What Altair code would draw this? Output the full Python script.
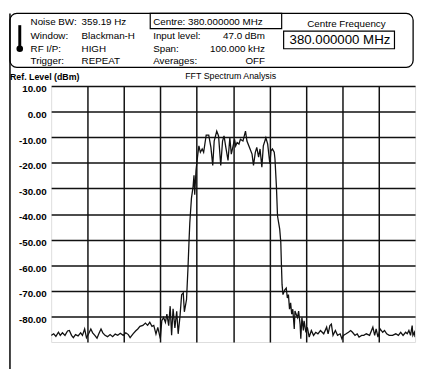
import altair as alt
import pandas as pd

# ---- data (frequency offset in kHz, level in dBm) ----
freq_khz = [
    -50.0, -49.3, -48.7, -48.0, -47.5, -46.9, -46.2, -45.5, -45.0, -44.4,
    -43.9, -43.3, -42.6, -41.9, -41.4, -40.8, -40.3, -39.7, -39.1, -38.6,
    -38.0, -37.4, -36.9, -36.3, -35.8, -35.2, -34.5, -33.8, -33.1, -32.4,
    -31.7, -31.0, -30.2, -29.5, -28.8, -28.3, -27.5, -26.8, -26.2, -25.6,
    -24.8, -24.1, -23.5, -22.9, -22.3, -21.8, -21.2, -20.7, -20.0, -19.6,
    -19.1, -18.6, -18.2, -17.7, -17.3, -16.9, -16.5, -16.0, -15.5, -15.1,
    -14.6, -14.15, -13.7, -13.4, -12.8, -12.4, -12.1, -11.9, -11.45, -11.0,
    -10.75, -10.55, -10.2, -9.7, -9.4, -9.0, -8.5, -8.1, -7.4, -6.7,
    -6.1, -5.6, -5.2, -4.5, -4.0, -3.4, -2.9, -2.5, -2.0, -1.4,
    -0.9, -0.5, 0.0, 0.4, 0.7, 1.1, 1.6, 2.0, 2.7, 3.4,
    3.8, 4.5, 5.2, 5.6, 6.1, 6.5, 7.0, 7.4, 7.9, 8.3,
    9.0, 9.5, 10.1, 10.4, 10.8, 11.3, 11.5, 11.9, 12.2, 12.8,
    13.1, 13.25, 13.45, 13.7, 14.2, 14.6, 14.9, 15.2, 15.5, 15.8,
    16.1, 16.4, 16.8, 17.0, 17.3, 17.7, 18.0, 18.4, 18.6, 18.9,
    19.3, 19.5, 20.0, 20.4, 20.9, 21.2, 21.5, 22.1, 22.7, 23.3,
    24.0, 24.9, 25.7, 26.1, 26.6, 27.0, 27.45, 28.1, 28.7, 29.4,
    29.9, 30.3, 31.05, 31.7, 32.3, 32.8, 33.5, 34.1, 34.6, 35.3,
    35.9, 36.6, 37.5, 38.4, 38.9, 39.3, 39.8, 40.4, 41.1, 41.6,
    42.2, 42.9, 43.8, 44.7, 45.4, 46.05, 46.7, 47.4, 47.85, 48.3,
    48.75, 49.2, 49.4, 49.8, 50.0,
]
level_dbm = [
    -87.4, -86.8, -87.8, -86.2, -87.4, -86.4, -87.4, -85.7, -85.5, -87.4,
    -88.3, -87.1, -87.6, -86.4, -87.4, -84.9, -88.3, -86.8, -84.9, -86.4,
    -87.4, -88.5, -86.8, -84.9, -86.4, -87.4, -87.9, -87.1, -87.9, -86.9,
    -87.4, -86.6, -87.4, -86.4, -87.1, -88.3, -86.8, -85.7, -84.9, -83.9,
    -83.5, -82.6, -83.5, -82.3, -83.9, -83.5, -86.9, -84.3, -88.7, -81.7,
    -80.4, -82.3, -79.1, -83.6, -76.0, -87.3, -77.0, -84.5, -78.0, -86.8,
    -80.0, -71.5, -70.8, -78.2, -73.4, -61.0, -50.0, -43.4, -33.8, -29.3,
    -24.9, -32.5, -23.0, -16.6, -13.4, -15.9, -14.6, -15.9, -9.2, -9.2,
    -14.0, -21.0, -11.5, -7.6, -9.5, -21.0, -11.5, -9.5, -14.0, -19.1,
    -10.2, -16.6, -13.4, -10.8, -13.4, -12.1, -12.7, -10.8, -11.5, -7.6,
    -11.5, -14.0, -16.6, -21.0, -15.9, -14.0, -17.8, -14.6, -21.7, -13.4,
    -10.2, -12.7, -20.4, -15.3, -14.6, -15.9, -18.5, -29.3, -40.8, -45.9,
    -51.0, -58.7, -67.6, -71.5, -69.6, -68.9, -72.8, -71.5, -77.2, -74.7,
    -79.1, -77.2, -84.9, -77.9, -79.1, -80.4, -77.9, -83.0, -88.7, -80.4,
    -85.5, -81.7, -86.2, -84.3, -88.1, -86.8, -85.5, -87.4, -86.2, -86.8,
    -85.5, -86.8, -84.2, -86.8, -83.6, -83.0, -87.4, -85.5, -87.4, -86.8,
    -88.7, -87.4, -86.8, -86.2, -85.5, -86.2, -87.4, -86.8, -88.1, -87.4,
    -87.4, -86.8, -87.4, -84.2, -87.4, -84.9, -88.1, -84.9, -86.2, -85.5,
    -86.8, -87.4, -87.4, -86.8, -87.4, -86.2, -87.4, -86.2, -86.8, -85.5,
    -87.4, -83.6, -87.4, -86.2, -88.1,
]

y_ticks = [10, 0, -10, -20, -30, -40, -50, -60, -70, -80]
x_grid = [-40, -30, -20, -10, 0, 10, 20, 30, 40]

header_left = [("Noise BW:", "359.19 Hz"), ("Window:", "Blackman-H"),
               ("RF I/P:", "HIGH"), ("Trigger:", "REPEAT")]
header_mid = [("Input level:", "47.0 dBm"), ("Span:", "100.000 kHz"),
              ("Averages:", "OFF")]
centre_box_text = "Centre: 380.000000 MHz"
centre_title = "Centre Frequency"
centre_value = "380.000000 MHz"
ref_label = "Ref. Level (dBm)"
plot_title = "FFT Spectrum Analysis"

FONT = "Liberation Sans, Arial, Helvetica, sans-serif"
W, H = 371, 261

df = pd.DataFrame({"f": freq_khz, "lvl": level_dbm})

trace = alt.Chart(df).mark_line(color="#111111", strokeWidth=1.3, clip=True).encode(
    x=alt.X("f:Q", scale=alt.Scale(domain=[-50, 50], nice=False),
            axis=alt.Axis(values=x_grid, labels=False, ticks=False, domain=False,
                          title=None, grid=True, gridColor="#111111", gridWidth=1.5,
                          gridOpacity=1)),
    y=alt.Y("lvl:Q", scale=alt.Scale(domain=[-90, 10], nice=False),
            axis=alt.Axis(values=y_ticks, ticks=False, domain=False, title=None,
                          grid=True, gridColor="#111111", gridWidth=1.5, gridOpacity=1,
                          labelExpr="(datum.value < 0 ? '-' : '') + format(abs(datum.value), '.2f')",
                          labelFont=FONT, labelFontSize=10, labelFontWeight="bold",
                          labelColor="#000000", labelPadding=5, labelOffset=3,
                          labelBaseline="middle")),
    order="f:Q",
)


def one(text):
    return alt.Chart(pd.DataFrame({"t": [text]}))


def label(text, x, y, size=10, align="left", weight="normal"):
    return one(text).mark_text(font=FONT, fontSize=size, align=align,
                               baseline="alphabetic", fontWeight=weight,
                               color="#000000").encode(
        text="t:N", x=alt.value(x), y=alt.value(y))


def box(x, x2, y, y2, radius=0, width=1.2):
    return one("b").mark_rect(fill=None, fillOpacity=0, stroke="#000000",
                              strokeWidth=width, cornerRadius=radius).encode(
        x=alt.value(x), x2=alt.value(x2), y=alt.value(y), y2=alt.value(y2))


layers = [trace]

# frame: header box and left border line
layers.append(box(-42, 369, -74, -19, radius=7, width=1.3))
layers.append(one("l").mark_rule(color="#000000", strokeWidth=1.5).encode(
    x=alt.value(-42), y=alt.value(-74), y2=alt.value(300)))
# thermometer icon
layers.append(one("t").mark_rule(color="#000000", strokeWidth=3).encode(
    x=alt.value(-32), y=alt.value(-62), y2=alt.value(-40)))
layers.append(one("t").mark_point(shape="circle", filled=True, color="#000000",
                                  size=45, opacity=1).encode(
    x=alt.value(-32), y=alt.value(-38)))

rows_y = [-62, -48, -34.5, -22]
for (k, v), yy in zip(header_left, rows_y):
    layers.append(label(k, -21, yy))
    layers.append(label(v, 31, yy))

layers.append(box(101, 235, -74, -58.5))
layers.append(label(centre_box_text, 104, rows_y[0]))
for (k, v), yy in zip(header_mid, rows_y[1:]):
    layers.append(label(k, 104, yy))
    layers.append(label(v, 218, yy, align="right"))

layers.append(label(centre_title, 301, -60, align="center"))
layers.append(box(237, 350, -56, -38))
layers.append(label(centre_value, 243, -42.5, size=13.5))

layers.append(label(ref_label, -42, -6, size=9, weight="bold"))
layers.append(label(plot_title, 183, -7, size=9, align="center"))

chart = alt.layer(*layers).properties(
    width=W, height=H,
    autosize=alt.AutoSizeParams(type="none"),
    padding={"left": 44, "top": 76, "right": 4, "bottom": 24},
).configure_view(fill="#ececec", stroke="#000000", strokeWidth=1.5
).configure(background="#ffffff")

chart.save("out.html", embed_options={"renderer": "svg", "actions": False})
